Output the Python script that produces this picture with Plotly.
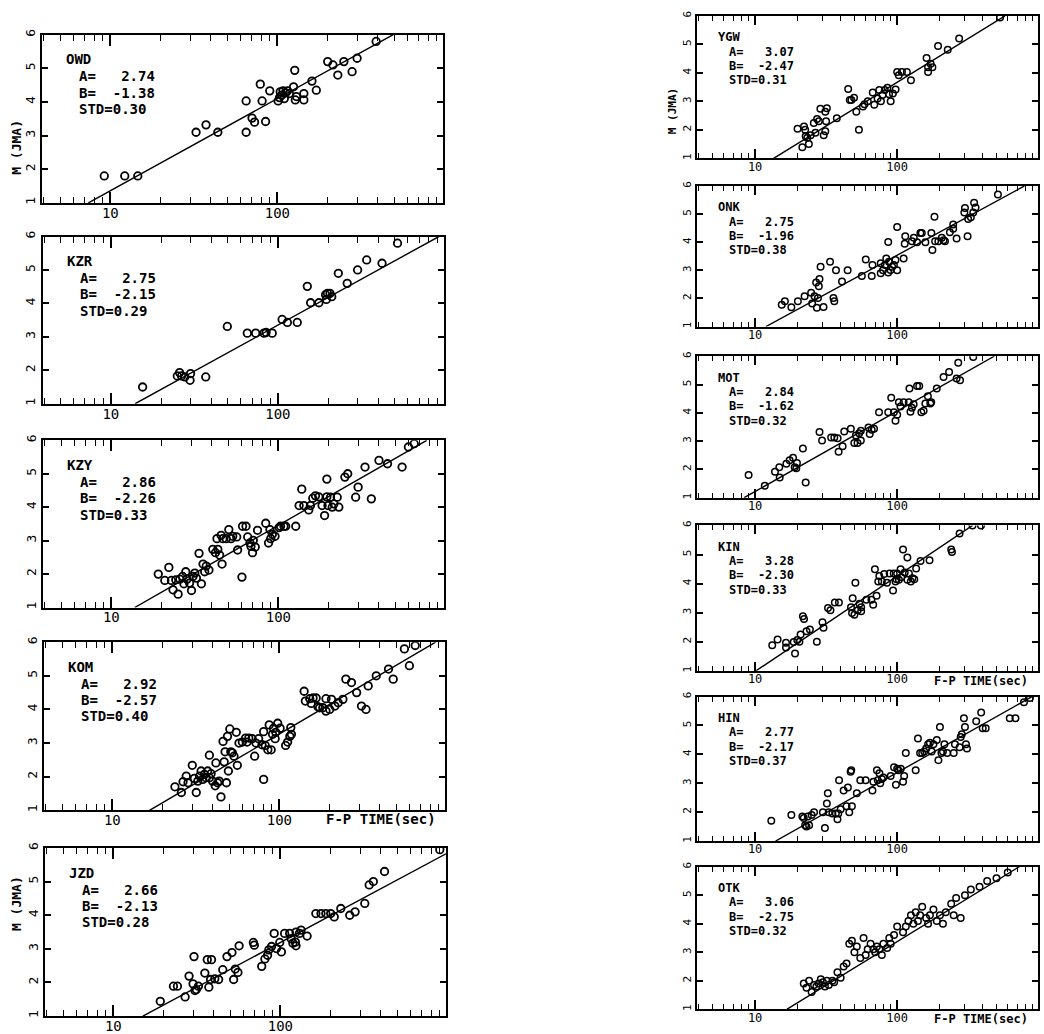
import math
import plotly.graph_objects as go

W, H = 1044, 1034
FONT = "DejaVu Sans Mono"

# ---------------- data ----------------
stations = ["OWD", "KZR", "KZY", "KOM", "JZD", "YGW", "ONK", "MOT", "KIN", "HIN", "OTK"]
A_coef = [2.74, 2.75, 2.86, 2.92, 2.66, 3.07, 2.75, 2.84, 3.28, 2.77, 3.06]
B_coef = [-1.38, -2.15, -2.26, -2.57, -2.13, -2.47, -1.96, -1.62, -2.30, -2.17, -2.75]
STD_val = [0.30, 0.29, 0.33, 0.40, 0.28, 0.31, 0.38, 0.32, 0.33, 0.37, 0.32]

x_tick_vals = [10, 100]
x_tick_text = ["10", "100"]
x_minor_vals = [4, 5, 6, 7, 8, 9, 20, 30, 40, 50, 60, 70, 80, 90, 200, 300, 400, 500, 600, 700, 800, 900]
y_tick_vals = [1, 2, 3, 4, 5, 6]
y_tick_text = ["1", "2", "3", "4", "5", "6"]

OWD_t = [9.2, 12.2, 14.6, 32.6, 37.4, 44, 65, 65, 70.5, 73, 79, 81, 85, 90, 101, 103, 104, 106, 108,
         110, 112, 115, 118, 125, 127, 128, 130, 144, 144, 161, 171, 200, 215, 230, 250, 280, 300, 390]
OWD_m = [1.8, 1.8, 1.8, 3.1, 3.32, 3.1, 3.1, 4.03, 3.52, 3.4, 4.53, 4.03, 3.42, 4.33, 4.03, 4.13, 4.3, 4.2, 4.33,
         4.1, 4.27, 4.33, 4.25, 4.45, 4.94, 4.06, 4.16, 4.25, 4.06, 4.62, 4.35, 5.2, 5.1, 4.8, 5.2, 4.9, 5.3, 5.8]

KZR_t = [15.5, 25, 25.8, 26.5, 27.7, 29.8, 30, 37, 49.8, 65.6, 73.6, 82.5, 85, 92.5, 106, 114, 130.6,
         150, 157, 176, 193, 195, 198, 205, 210, 230, 260, 300, 340, 420, 520]
KZR_m = [1.5, 1.83, 1.93, 1.83, 1.8, 1.7, 1.9, 1.8, 3.31, 3.11, 3.11, 3.11, 3.13, 3.11, 3.52, 3.43, 3.43,
         4.51, 4.02, 4.02, 4.26, 4.12, 4.3, 4.3, 4.2, 4.9, 4.6, 5.0, 5.3, 5.2, 5.8]

KZY_t = [19.1, 20.9, 22.1, 22.9, 23.4, 24.3, 25.1, 25.7, 26.7, 27.2, 27.9, 28.4, 29.4, 30.2, 30.8, 31.6,
         32.3, 33.5, 34.6, 35.4, 36.2, 37, 38.4, 40.5, 42, 43.4, 44.5, 46, 42.9, 45.4, 46.5, 48.7, 50.5,
         52.1, 53.3, 56.3, 57, 60.5, 61, 64, 65.5, 67.6, 68.5, 70, 70.8, 72.7, 75, 84, 87.3, 89, 90, 92,
         95.5, 101, 103, 108, 110.6, 127, 138, 133, 142, 152, 155.6, 160.6, 166.7, 174.5, 182.6, 189,
         195, 195, 198, 205, 210, 215, 225, 230, 250, 260, 290, 300, 330, 360, 400, 450, 550, 600, 650]
KZY_m = [2.0, 1.81, 2.2, 1.81, 1.53, 1.83, 1.4, 1.85, 1.93, 1.71, 2.07, 1.85, 1.73, 1.51, 1.93, 2.03,
         1.88, 2.62, 1.71, 2.3, 2.07, 2.24, 2.12, 2.74, 2.64, 2.74, 2.57, 2.3, 3.06, 3.16, 3.06, 3.06, 3.33,
         3.06, 3.13, 3.11, 2.72, 1.91, 3.43, 3.43, 3.11, 2.93, 2.83, 2.64, 3.01, 2.81, 3.31, 3.52, 2.93, 3.33,
         3.06, 3.19, 3.13, 3.39, 3.43, 3.43, 3.43, 3.43, 4.54, 4.05, 4.05, 3.92, 4.05, 4.27, 4.34, 4.31,
         4.05, 3.75, 4.84, 4.31, 4.05, 4.3, 4.0, 4.1, 4.3, 4.0, 4.9, 5.0, 4.3, 4.6, 5.2, 4.25, 5.4, 5.3,
         5.2, 5.8, 5.9]

KOM_t = [23.7, 25.9, 26.5, 27.7, 28.4, 30.1, 31, 31.8, 32.5, 33.3, 34, 34.8, 35.6, 36.4, 37.2, 38.1,
         38.1, 39, 39.8, 41.3, 41.7, 42.7, 43.6, 44.7, 46, 46.7, 47.3, 48.2, 48.9, 49.5, 50.5, 51.2, 52.3,
         53.5, 55.2, 56, 57.3, 60, 62.7, 64.1, 65.6, 68.7, 71.1, 72.4, 75.1, 78.7, 80.5, 80.5, 82.3, 85.3,
         86.9, 89.3, 91, 92.3, 94.3, 95.1, 97.7, 101, 109, 112, 115.5, 117, 118, 140.6, 143, 152, 155,
         159, 166, 170, 174, 182, 190, 190, 200, 205, 215, 225, 240, 250, 270, 290, 310, 330, 340, 380,
         450, 480, 560, 600, 650]
KOM_m = [1.7, 1.53, 1.85, 2.02, 1.82, 2.34, 1.95, 1.53, 1.87, 2.02, 2.17, 1.92, 2.07, 1.97, 2.17, 2.64,
         1.97, 2.09, 1.87, 1.73, 2.41, 1.82, 1.87, 1.4, 3.05, 2.44, 2.74, 1.82, 3.2, 2.17, 3.42, 2.74, 2.71,
         2.61, 3.32, 2.34, 3.0, 3.03, 3.15, 3.03, 3.15, 3.13, 2.61, 3.0, 3.13, 2.95, 3.34, 1.92, 2.93, 2.8,
         3.54, 2.8, 3.26, 3.44, 3.13, 3.32, 3.59, 3.44, 2.93, 3.03, 3.2, 3.46, 3.26, 4.54, 4.25, 4.32, 4.18,
         4.34, 4.34, 4.08, 4.05, 4.05, 3.95, 4.32, 4.0, 4.3, 4.1, 4.2, 4.3, 4.9, 4.8, 4.5, 4.1, 4.0, 4.7, 5.0,
         5.2, 4.9, 5.8, 5.3, 5.9]

JZD_t = [19.1, 22.9, 24.2, 26.9, 28.4, 30, 30.4, 30.8, 31.4, 32.3, 35.3, 36.5, 37.3, 38.7, 38.2, 40.5,
         42.7, 45.2, 47.9, 51.3, 52.5, 53.7, 55.7, 56.6, 68.9, 69.8, 77.3, 80.8, 83.8, 85.3, 88.5, 91.8,
         94.7, 99.1, 101.4, 106, 113.6, 116, 118.8, 123, 124, 124, 130, 133, 144.5, 163, 175, 187, 200,
         210, 230, 260, 280, 320, 340, 360, 420, 900]
JZD_m = [1.44, 1.89, 1.89, 1.57, 2.19, 1.96, 2.77, 1.76, 1.79, 1.89, 2.28, 2.68, 1.86, 2.68, 2.09, 2.11,
         2.09, 2.38, 2.77, 2.89, 2.09, 2.4, 2.3, 3.09, 3.19, 3.11, 2.48, 2.7, 2.81, 2.97, 3.07, 3.46, 3.01,
         3.19, 2.91, 3.46, 3.46, 3.3, 3.17, 3.2, 3.5, 3.09, 3.46, 3.56, 3.38, 4.05, 4.05, 4.05, 4.05, 3.95,
         4.2, 4.0, 4.1, 4.35, 4.9, 5.0, 5.3, 5.95]

YGW_t = [19.9, 21.5, 22.1, 22.5, 22.7, 23.3, 23.9, 24.6, 25.9, 26.6, 27.3, 28.1, 28.8, 30.4, 31.2, 31.2,
         32, 31.6, 37.6, 45.2, 46.4, 47.6, 49.7, 51.6, 53.8, 57.4, 58.9, 62.1, 67.3, 69, 72.8, 74.8, 76.8,
         78.8, 81.8, 85.4, 87.7, 90, 93.3, 97.5, 100, 102.6, 108, 117, 125, 161, 165, 165, 172, 177, 194,
         227, 273, 530]
YGW_m = [2.04, 1.39, 2.12, 2.0, 1.78, 1.72, 1.5, 1.81, 2.24, 1.9, 2.38, 2.3, 2.74, 1.81, 1.95, 2.64,
         2.76, 2.3, 2.41, 3.43, 3.05, 3.05, 3.13, 2.64, 2.0, 2.82, 2.9, 3.0, 3.31, 2.88, 3.1, 3.4, 3.0,
         3.22, 3.4, 3.48, 3.25, 3.0, 3.28, 3.42, 4.03, 3.92, 4.03, 4.03, 3.74, 4.52, 4.2, 4.03, 4.32, 4.2,
         4.94, 4.81, 5.21, 5.94]

ONK_t = [15.4, 16.2, 18, 20, 22.3, 24.8, 25.2, 26.2, 26.9, 27.2, 27.7, 28.1, 28.4, 28.9, 30.3, 33.7,
         35.6, 36.1, 37.1, 40.9, 44.8, 56.4, 60.1, 66.2, 67, 76.6, 76.6, 79.5, 82, 83.8, 86.5, 87.5, 89.8,
         92.2, 86.5, 94.8, 97.3, 100, 100, 111, 113, 114, 127, 131, 138, 145.6, 149, 158, 174, 177, 183,
         185, 195, 206, 212, 217, 235, 248, 248, 262, 297, 300, 313, 316, 330, 343, 348, 356, 512]
ONK_m = [1.78, 1.9, 1.69, 1.9, 2.08, 2.2, 1.82, 2.08, 2.57, 1.67, 2.02, 2.43, 2.69, 3.13, 1.7, 3.31,
         2.02, 1.9, 3.0, 2.6, 3.0, 2.8, 3.39, 2.8, 3.19, 3.25, 2.9, 3.0, 3.19, 3.42, 2.92, 3.31, 3.01,
         3.13, 4.01, 3.19, 3.37, 3.0, 4.54, 3.42, 3.95, 4.21, 4.04, 4.16, 4.0, 4.33, 4.33, 4.0, 4.33, 3.72,
         4.91, 4.04, 4.04, 4.16, 4.07, 4.04, 4.36, 4.48, 4.63, 4.13, 5.06, 5.22, 4.21, 4.83, 4.89, 5.06,
         5.41, 5.24, 5.7]

MOT_t = [9.0, 11.7, 13.8, 14.8, 14.9, 16.6, 17.5, 18.5, 19, 19.5, 19.7, 21.7, 22.7, 28.4, 29.6, 34.3,
         36.1, 38.1, 38.7, 41.3, 42.4, 47.2, 49.9, 51.2, 52.6, 54, 55.5, 55.5, 62.8, 64.1, 66.2, 68.7,
         74.5, 86.5, 90.8, 94.8, 97.3, 100, 102.8, 105.5, 111, 120.6, 122, 127, 124, 130.6, 138, 143, 148,
         153.5, 157.8, 164.5, 171, 173.7, 190, 212, 232, 262, 269, 277, 343]
MOT_m = [1.8, 1.42, 1.92, 2.08, 1.71, 2.2, 2.32, 2.41, 2.08, 2.04, 2.23, 2.74, 1.54, 3.32, 3.02, 3.13,
         3.13, 3.1, 2.62, 2.82, 3.34, 3.44, 2.93, 3.2, 2.93, 3.28, 3.02, 3.37, 3.48, 3.25, 3.4, 3.44,
         4.02, 4.02, 4.53, 4.02, 3.72, 3.93, 4.37, 4.22, 4.37, 4.37, 4.86, 4.18, 4.04, 4.3, 4.95, 4.95, 4.02,
         4.07, 4.33, 4.59, 4.33, 4.37, 4.86, 5.27, 5.44, 5.21, 5.77, 5.15, 5.97]

KIN_t = [13.2, 14.4, 16.5, 16.5, 18.7, 19.1, 19.8, 20.5, 20.9, 21.7, 22.1, 23, 24.3, 27.2, 29.8, 30.3,
         32.6, 33.9, 36.4, 38.9, 47.3, 48.1, 48.6, 50, 50.8, 52.8, 54.3, 55.8, 55.8, 60.7, 65.9, 67.8, 69.7,
         71.6, 73.6, 74.9, 78, 81, 84.7, 88.5, 93.5, 94.6, 97.3, 98.9, 100, 102.8, 105.7, 106.9, 110, 113,
         118, 118, 121, 124.7, 128, 132, 136, 146, 169, 240, 243, 275, 339, 389]
KIN_m = [1.88, 2.08, 1.97, 1.8, 1.99, 1.6, 2.06, 2.0, 2.25, 2.88, 2.78, 2.36, 2.42, 2.0, 2.67, 2.48,
         3.16, 3.08, 3.35, 3.35, 3.19, 2.99, 3.5, 2.93, 4.03, 3.08, 3.31, 3.19, 3.05, 3.44, 3.44, 3.27, 4.49,
         3.58, 4.07, 4.26, 4.07, 4.33, 4.03, 4.35, 3.76, 4.35, 4.07, 4.15, 4.35, 4.13, 4.49, 4.22, 5.17, 4.38,
         4.9, 4.13, 4.35, 4.07, 4.18, 4.15, 4.52, 4.78, 4.8, 5.17, 5.09, 5.72, 6.0, 6.0]

HIN_t = [13, 18, 21.5, 22, 22.5, 23, 23.5, 24, 25, 26, 30, 31, 32, 32.5, 33, 35, 37, 38, 38.5, 39, 40,
         42, 44, 45, 46, 47, 47.5, 48, 52, 55, 60, 67, 68, 72, 73, 75, 76, 78, 80, 90, 95, 98, 100, 102,
         106, 110, 112, 115, 135, 140, 145, 150, 155, 160, 165, 170, 175, 180, 190, 195, 200, 205, 210,
         215, 225, 250, 255, 275, 280, 285, 295, 300, 305, 310, 360, 390, 400, 420, 620, 680, 780, 860]
HIN_m = [1.7, 1.9, 1.85, 1.8, 1.55, 1.5, 1.85, 1.55, 1.9, 2.0, 2.0, 1.45, 2.3, 2.65, 2.0, 1.95, 1.95,
         1.75, 1.95, 3.1, 2.1, 2.75, 2.2, 2.85, 2.0, 3.4, 3.45, 2.2, 2.65, 3.1, 3.1, 2.75, 3.05, 3.45, 3.1,
         3.35, 3.0, 3.15, 3.2, 3.25, 3.55, 2.95, 3.5, 3.45, 3.5, 3.05, 3.25, 4.05, 3.45, 4.55, 4.05, 4.05,
         4.1, 4.2, 4.35, 4.4, 4.1, 4.35, 4.5, 3.8, 4.95, 4.05, 4.1, 4.35, 4.05, 4.05, 4.35, 4.25, 4.6, 4.7,
         5.25, 4.95, 4.35, 4.2, 5.15, 5.45, 4.9, 4.9, 5.25, 5.25, 5.8, 5.95]

OTK_t = [22, 23, 24, 25, 26, 27, 28, 29, 30, 31, 32, 33, 35, 36, 38, 40, 42, 44, 46, 48, 50, 52, 55,
         58, 60, 62, 65, 68, 70, 72, 75, 78, 80, 85, 88, 90, 95, 100, 110, 115, 120, 125, 130, 135, 140,
         145, 150, 160, 165, 170, 180, 190, 200, 210, 220, 240, 250, 260, 280, 300, 330, 380, 430, 500, 600]
OTK_m = [1.9, 1.75, 2.0, 1.6, 1.85, 1.8, 1.9, 2.05, 1.95, 1.8, 2.0, 1.85, 2.0, 1.95, 2.3, 2.1, 2.5, 2.6,
         3.3, 3.4, 3.0, 3.2, 2.8, 3.5, 2.9, 3.1, 3.3, 3.1, 3.0, 3.2, 3.1, 2.9, 3.3, 3.15, 3.5, 3.3, 3.6, 3.9,
         3.7, 3.9, 4.1, 4.3, 4.0, 4.4, 4.1, 4.3, 4.6, 4.2, 4.0, 4.3, 4.5, 4.1, 4.3, 4.0, 4.4, 4.7, 4.3, 4.9,
         4.2, 5.0, 5.2, 5.3, 5.5, 5.6, 5.8]

series = {
    "OWD": (OWD_t, OWD_m), "KZR": (KZR_t, KZR_m), "KZY": (KZY_t, KZY_m), "KOM": (KOM_t, KOM_m),
    "JZD": (JZD_t, JZD_m), "YGW": (YGW_t, YGW_m), "ONK": (ONK_t, ONK_m), "MOT": (MOT_t, MOT_m),
    "KIN": (KIN_t, KIN_m), "HIN": (HIN_t, HIN_m), "OTK": (OTK_t, OTK_m),
}

# ---------------- layout (pixel boxes) ----------------
XMIN, XMAX = 3.9, 980.0
geom = {
    "OWD": (42, 443, 29, 199, "L"),
    "KZR": (42.5, 443.5, 233, 402, "L"),
    "KZY": (43, 444, 439, 608, "L"),
    "KOM": (44, 445, 643, 813, "L"),
    "JZD": (45, 446, 851, 1021, "L"),
    "YGW": (697, 1038, 10, 154, "R"),
    "ONK": (697, 1038, 182, 324, "R"),
    "MOT": (697, 1038, 354, 497, "R"),
    "KIN": (697, 1038, 525, 672, "R"),
    "HIN": (697, 1038, 698, 844, "R"),
    "OTK": (697, 1038, 870, 1014, "R"),
}
style = {
    "L": dict(tick=14, txt=14, msize=7.5, mlw=1.8, major=11, minor=6, name_dx=23, name_dy=25,
              par_dx=36, par_dy=(42, 58.5, 75)),
    "R": dict(tick=12, txt=12, msize=6.5, mlw=1.5, major=9, minor=5, name_dx=20, name_dy=21.5,
              par_dx=31, par_dy=(36, 50.5, 65)),
}


def px(x):
    return x / W


def py(y):
    return 1 - y / H


fig = go.Figure()
annotations = []
layout = dict(width=W, height=H, margin=dict(l=0, r=0, t=0, b=0), showlegend=False,
              paper_bgcolor="white", plot_bgcolor="white")

for i, st in enumerate(stations):
    k = i + 1
    sfx = "" if k == 1 else str(k)
    x0, x1, yt, yb, col = geom[st]
    s = style[col]
    t, m = series[st]
    a, b = A_coef[i], B_coef[i]

    fig.add_trace(go.Scatter(
        x=t, y=m, mode="markers", xaxis="x" + sfx, yaxis="y" + sfx,
        marker=dict(symbol="circle-open", size=s["msize"], color="black",
                    line=dict(width=s["mlw"], color="black")),
        cliponaxis=True))

    t_lo = max(10 ** ((1 - b) / a), XMIN)
    t_hi = min(10 ** ((6 - b) / a), XMAX)
    fig.add_trace(go.Scatter(
        x=[t_lo, t_hi], y=[a * math.log10(t_lo) + b, a * math.log10(t_hi) + b],
        mode="lines", xaxis="x" + sfx, yaxis="y" + sfx,
        line=dict(color="black", width=1.4)))

    layout["xaxis" + sfx] = dict(
        type="log", range=[math.log10(XMIN), math.log10(XMAX)], domain=[px(x0), px(x1)],
        anchor="y" + sfx, tickmode="array", tickvals=x_tick_vals, ticktext=x_tick_text,
        ticks="inside", ticklen=s["major"], tickwidth=1.6, tickcolor="black",
        minor=dict(tickmode="array", tickvals=x_minor_vals, ticks="inside", ticklen=s["minor"],
                   tickwidth=1.4, tickcolor="black", showgrid=False),
        showline=True, linewidth=2, linecolor="black", mirror="ticks",
        showgrid=False, zeroline=False, ticklabelstandoff=-4,
        tickfont=dict(family=FONT, size=s["tick"], color="black"))
    layout["yaxis" + sfx] = dict(
        range=[1, 6], domain=[py(yb), py(yt)], anchor="x" + sfx,
        tickmode="array", tickvals=y_tick_vals, ticktext=y_tick_text,
        ticks="inside", ticklen=6, tickwidth=1.6, tickcolor="black",
        showline=True, linewidth=2, linecolor="black", mirror="ticks",
        showgrid=False, zeroline=False, tickangle=-90, ticklabelstandoff=0,
        tickfont=dict(family=FONT, size=s["tick"] - 1, color="black"))

    lines = [st, "A=%7.2f" % a, "B=%7.2f" % b, "STD=%.2f" % STD_val[i]]
    annotations.append(dict(x=px(x0 + s["name_dx"]), y=py(yt + s["name_dy"]), xref="paper", yref="paper",
                            text="<b>%s</b>" % lines[0], showarrow=False, xanchor="left", yanchor="middle",
                            borderpad=0, font=dict(family=FONT, size=s["txt"], color="black")))
    for j in range(3):
        annotations.append(dict(x=px(x0 + s["par_dx"]), y=py(yt + s["par_dy"][j]), xref="paper", yref="paper",
                                text="<b>%s</b>" % lines[j + 1].replace(" ", "&nbsp;"), showarrow=False,
                                xanchor="left", yanchor="middle", borderpad=0,
                                font=dict(family=FONT, size=s["txt"], color="black")))

# axis titles (free text, only on some panels as in the figure)
for (xx, yy, size) in [(8, 114, 13), (8, 936, 13), (672, 82, 11)]:
    annotations.append(dict(x=px(xx), y=py(yy), xref="paper", yref="paper", text="<b>M (JMA)</b>",
                            textangle=-90, showarrow=False, borderpad=0,
                            font=dict(family=FONT, size=size, color="black")))
for (xx, yy, size) in [(325, 822, 14), (933, 682, 12), (933, 1024, 12)]:
    annotations.append(dict(x=px(xx), y=py(yy), xref="paper", yref="paper", text="<b>F-P TIME(sec)</b>",
                            showarrow=False, xanchor="left", yanchor="middle", borderpad=0,
                            font=dict(family=FONT, size=size, color="black")))

layout["annotations"] = annotations
fig.update_layout(**layout)
fig.write_html("out.html", config={"displayModeBar": False},
               post_script="document.body.style.margin='0px';")
